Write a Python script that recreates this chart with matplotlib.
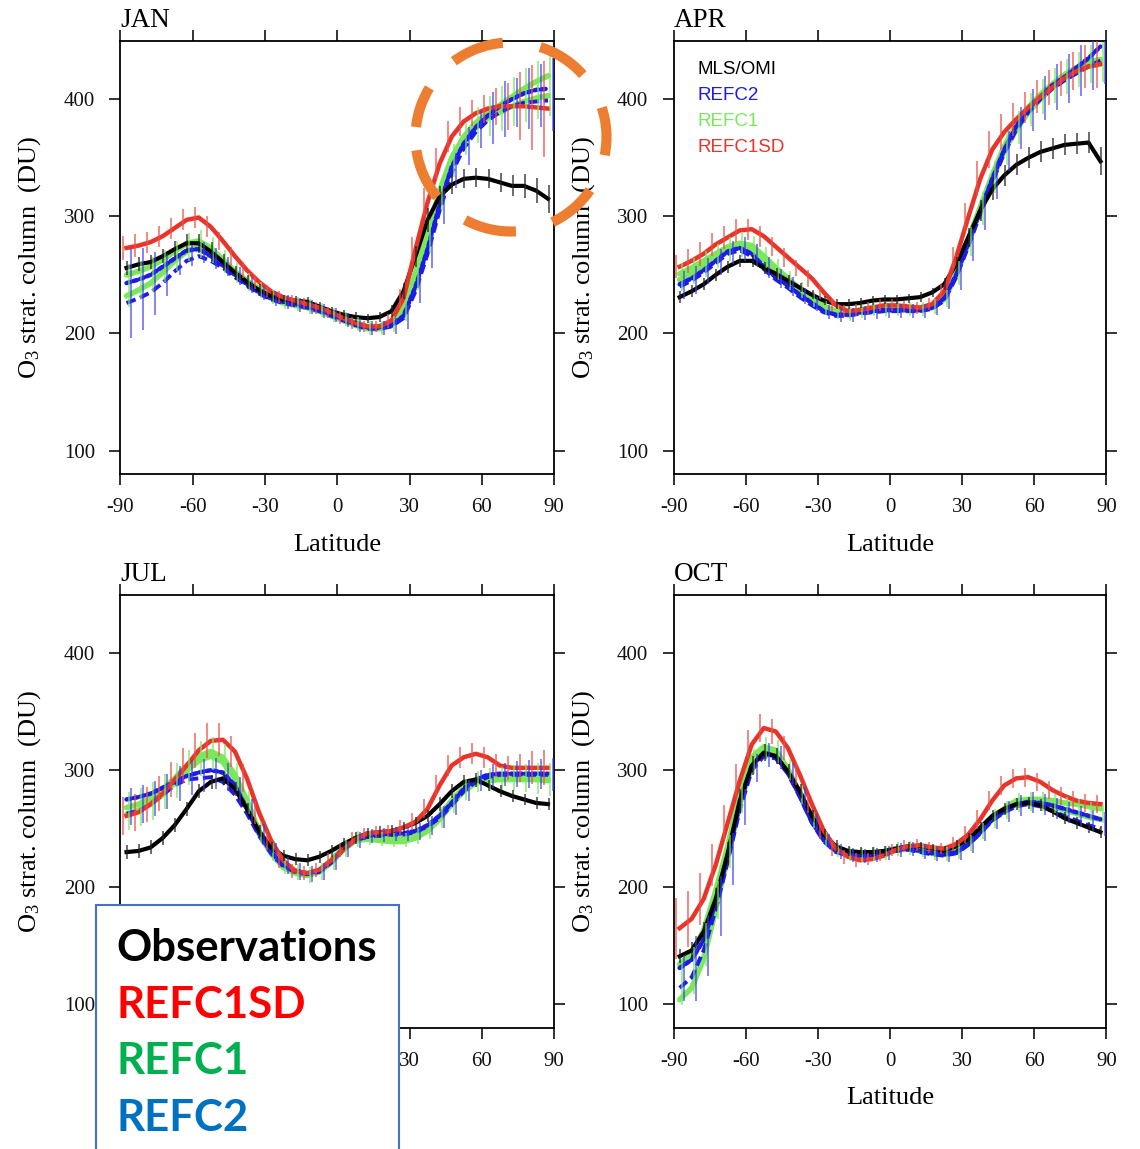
import numpy as np
import matplotlib
matplotlib.use("Agg")
import matplotlib.pyplot as plt
from matplotlib.patches import Arc, Rectangle

# Latitude grid (band centres, degrees)
lat = np.arange(-87.5, 90.0, 5.0)

# ---------------- JAN ----------------
jan_obs = [256, 259, 261, 266, 272, 277, 277, 270, 261, 252, 244, 237, 232, 229, 228, 227, 223, 219,
           216, 214, 213, 214, 219, 236, 266, 297, 317, 327, 332, 333, 332, 329, 326, 326, 322, 315]
jan_sd = [273, 275, 278, 283, 290, 297, 299, 291, 279, 266, 254, 244, 236, 231, 228, 225, 222, 218,
          213, 209, 206, 206, 211, 230, 272, 312, 345, 368, 381, 388, 392, 394, 394, 394, 393, 392]
jan_c1a = [250, 253, 257, 263, 270, 277, 279, 273, 263, 253, 245, 238, 232, 228, 226, 224, 221, 217,
           213, 209, 206, 206, 209, 222, 252, 285, 322, 350, 368, 380, 388, 395, 402, 409, 415, 420]
jan_c1b = [232, 237, 243, 252, 262, 270, 274, 269, 260, 251, 243, 236, 230, 226, 224, 222, 219, 215,
           211, 207, 204, 204, 207, 218, 246, 280, 316, 345, 364, 376, 384, 389, 394, 398, 401, 403]
jan_c2a = [243, 246, 250, 257, 264, 271, 272, 266, 258, 250, 242, 235, 230, 227, 225, 223, 220, 216,
           212, 208, 205, 205, 207, 215, 240, 272, 310, 342, 362, 376, 386, 394, 400, 405, 408, 409]
jan_c2b = [226, 230, 235, 243, 253, 262, 266, 262, 256, 248, 241, 234, 229, 226, 224, 222, 219, 215,
           211, 207, 204, 204, 206, 213, 236, 268, 305, 337, 358, 372, 382, 389, 394, 397, 398, 399]
jan_obs_err = [6, 6, 6, 6, 7, 8, 8, 8, 7, 6, 6, 5, 4, 4, 4, 4, 4, 4,
               4, 4, 4, 4, 5, 7, 9, 10, 9, 8, 8, 8, 8, 8, 9, 10, 11, 12]
jan_sd_err = [10, 10, 9, 9, 9, 9, 9, 9, 8, 8, 7, 6, 5, 5, 5, 5, 5, 5,
              5, 5, 5, 5, 6, 8, 10, 12, 13, 13, 12, 11, 12, 16, 20, 29, 36, 41]
jan_c1_err = [18, 16, 15, 14, 13, 12, 12, 11, 10, 9, 8, 7, 6, 6, 6, 6, 6, 6,
              6, 6, 6, 6, 7, 9, 12, 14, 14, 14, 14, 15, 17, 19, 21, 23, 25, 26]
jan_c2_err = [38, 35, 27, 18, 9, 9, 9, 9, 8, 8, 7, 6, 6, 6, 6, 6, 6, 6,
              6, 6, 6, 6, 7, 10, 12, 14, 14, 15, 16, 16, 22, 24, 21, 26, 27, 31]

# ---------------- APR ----------------
apr_obs = [231, 236, 242, 250, 257, 262, 262, 256, 251, 245, 239, 233, 228, 225, 225, 226, 228, 229,
           229, 230, 231, 235, 242, 259, 282, 305, 323, 335, 344, 350, 355, 358, 361, 362, 363, 347]
apr_sd = [257, 262, 268, 276, 282, 288, 289, 283, 274, 265, 256, 247, 235, 224, 219, 220, 222, 224,
          224, 223, 222, 225, 236, 265, 299, 332, 357, 372, 383, 393, 402, 410, 418, 424, 428, 430]
apr_c1a = [251, 256, 262, 268, 274, 277, 275, 266, 256, 247, 238, 230, 223, 219, 218, 220, 222, 222,
           222, 222, 222, 224, 231, 253, 280, 308, 335, 360, 378, 393, 404, 413, 421, 427, 432, 434]
apr_c1b = [246, 251, 257, 264, 270, 274, 272, 263, 253, 244, 236, 228, 221, 217, 216, 218, 220, 220,
           220, 220, 220, 222, 229, 250, 277, 305, 332, 356, 374, 389, 400, 410, 418, 424, 428, 430]
apr_c2a = [242, 247, 254, 262, 270, 273, 268, 257, 248, 241, 233, 226, 219, 216, 216, 218, 219, 220,
           220, 220, 220, 222, 230, 250, 277, 305, 332, 357, 377, 392, 402, 412, 419, 427, 435, 445]
apr_c2b = [240, 245, 252, 260, 268, 271, 266, 255, 246, 239, 231, 224, 218, 215, 215, 217, 218, 219,
           219, 219, 219, 221, 228, 248, 274, 302, 329, 354, 374, 389, 400, 409, 416, 422, 428, 433]
apr_obs_err = [5, 5, 5, 5, 5, 5, 5, 5, 5, 5, 4, 4, 4, 4, 4, 4, 4, 4,
               4, 4, 4, 4, 5, 6, 8, 9, 9, 9, 9, 9, 9, 9, 9, 9, 9, 12]
apr_sd_err = [10, 10, 10, 10, 10, 10, 9, 9, 8, 8, 7, 7, 6, 5, 5, 5, 5, 5,
              5, 5, 5, 5, 6, 9, 12, 15, 16, 15, 14, 13, 14, 15, 15, 16, 18, 20]
apr_c1_err = [12, 11, 11, 10, 10, 10, 10, 9, 9, 8, 7, 6, 6, 6, 6, 6, 6, 6,
              6, 6, 6, 6, 7, 10, 12, 14, 14, 14, 14, 14, 15, 15, 15, 15, 16, 17]
apr_c2_err = [12, 12, 11, 11, 10, 10, 9, 9, 8, 8, 7, 6, 6, 6, 6, 6, 6, 6,
              6, 6, 6, 6, 8, 12, 14, 15, 16, 17, 18, 18, 19, 20, 21, 22, 24, 26]

# ---------------- JUL ----------------
jul_obs = [230, 231, 234, 242, 253, 267, 282, 290, 293, 284, 267, 248, 234, 227, 224, 223, 226, 231,
           237, 242, 246, 247, 248, 251, 255, 261, 271, 282, 290, 292, 287, 282, 278, 275, 272, 271]
jul_sd = [261, 264, 271, 280, 292, 304, 317, 325, 326, 316, 293, 264, 240, 223, 214, 212, 215, 223,
          232, 241, 246, 247, 248, 251, 256, 267, 287, 304, 311, 314, 311, 304, 302, 302, 302, 302]
jul_c1a = [268, 271, 276, 284, 293, 304, 312, 316, 311, 296, 274, 248, 231, 219, 214, 211, 214, 223,
           234, 242, 243, 242, 242, 242, 245, 251, 261, 274, 285, 292, 293, 294, 294, 294, 294, 293]
jul_c1b = [262, 266, 271, 279, 289, 300, 308, 312, 307, 293, 271, 246, 229, 217, 212, 210, 213, 221,
           232, 240, 241, 240, 239, 239, 242, 248, 258, 271, 282, 289, 291, 292, 292, 292, 292, 291]
jul_c2a = [275, 277, 280, 285, 290, 295, 298, 300, 298, 287, 267, 246, 230, 219, 214, 212, 214, 222,
           233, 241, 244, 245, 246, 246, 248, 253, 261, 272, 284, 292, 296, 297, 297, 297, 297, 297]
jul_c2b = [263, 265, 271, 279, 287, 292, 293, 294, 290, 279, 263, 244, 229, 218, 213, 211, 213, 221,
           232, 240, 243, 244, 245, 245, 247, 252, 259, 270, 282, 290, 294, 296, 296, 296, 296, 296]
jul_obs_err = [6, 6, 6, 6, 6, 6, 6, 6, 6, 6, 5, 5, 5, 5, 5, 5, 5, 5,
               5, 5, 5, 5, 5, 5, 5, 5, 6, 6, 6, 6, 5, 5, 5, 5, 5, 5]
jul_sd_err = [16, 16, 15, 15, 15, 15, 15, 15, 14, 13, 12, 10, 8, 7, 6, 6, 6, 6,
              6, 6, 5, 5, 5, 6, 7, 8, 9, 9, 9, 9, 9, 10, 10, 12, 14, 15]
jul_c1_err = [16, 16, 16, 15, 15, 15, 15, 14, 13, 12, 10, 9, 8, 7, 7, 7, 7, 7,
              7, 7, 6, 6, 6, 6, 7, 8, 9, 9, 9, 9, 10, 10, 11, 12, 13, 14]
jul_c2_err = [16, 16, 15, 15, 15, 15, 14, 13, 12, 11, 10, 9, 8, 7, 7, 7, 7, 7,
              7, 7, 6, 6, 6, 6, 7, 8, 9, 9, 9, 9, 10, 10, 11, 12, 13, 14]

# ---------------- OCT ----------------
oct_obs = [141, 146, 162, 190, 229, 274, 304, 315, 312, 299, 282, 261, 245, 235, 231, 230, 230, 231,
           233, 235, 235, 233, 231, 235, 241, 251, 261, 267, 271, 272, 270, 265, 259, 255, 251, 247]
oct_sd = [165, 173, 190, 219, 255, 291, 322, 336, 333, 319, 296, 271, 248, 233, 226, 223, 224, 227,
          232, 235, 236, 234, 233, 237, 245, 258, 274, 287, 293, 294, 290, 283, 278, 274, 272, 271]
oct_c1a = [134, 144, 163, 197, 235, 280, 311, 320, 317, 301, 280, 258, 242, 232, 229, 228, 229, 230,
           233, 234, 232, 230, 229, 231, 239, 249, 260, 267, 274, 275, 275, 274, 272, 271, 269, 267]
oct_c1b = [104, 114, 139, 181, 226, 271, 304, 317, 315, 300, 279, 257, 241, 231, 228, 227, 228, 229,
           232, 233, 231, 229, 228, 230, 237, 247, 258, 265, 271, 272, 271, 269, 266, 263, 260, 258]
oct_c2a = [131, 138, 155, 187, 226, 271, 304, 314, 312, 298, 278, 256, 240, 231, 228, 227, 228, 230,
           232, 233, 231, 229, 228, 230, 237, 247, 258, 265, 271, 273, 272, 270, 267, 264, 261, 258]
oct_c2b = [114, 123, 146, 181, 222, 266, 300, 312, 310, 297, 277, 255, 239, 230, 227, 226, 227, 229,
           231, 232, 230, 228, 227, 229, 236, 246, 257, 264, 269, 271, 269, 265, 261, 257, 253, 250]
oct_obs_err = [6, 7, 8, 9, 10, 10, 8, 7, 7, 6, 6, 5, 5, 5, 4, 4, 4, 4,
               4, 4, 4, 4, 4, 5, 5, 5, 5, 5, 5, 5, 5, 5, 5, 5, 5, 5]
oct_sd_err = [26, 24, 22, 18, 15, 14, 12, 12, 11, 10, 9, 8, 7, 6, 6, 6, 5, 5,
              5, 5, 5, 5, 5, 6, 7, 8, 8, 8, 8, 8, 8, 8, 8, 8, 8, 8]
oct_c1_err = [20, 20, 18, 16, 14, 12, 11, 10, 10, 9, 8, 7, 6, 6, 6, 6, 6, 6,
              6, 6, 6, 6, 6, 6, 7, 7, 8, 8, 8, 8, 8, 8, 8, 8, 8, 8]
oct_c2_err = [20, 28, 26, 26, 22, 15, 12, 10, 10, 9, 8, 7, 6, 6, 6, 6, 6, 6,
              6, 6, 6, 6, 6, 6, 7, 7, 8, 9, 9, 9, 9, 9, 9, 9, 9, 10]

months = ["JAN", "APR", "JUL", "OCT"]
xticks = [-90, -60, -30, 0, 30, 60, 90]
xticklabels = ["-90", "-60", "-30", "0", "30", "60", "90"]
# the JUL panel's lower-left corner sits under the boxed key
xticklabels_jul = ["", "", "", "", "30", "60", "90"]
yticks = [100, 200, 300, 400]
legend_names = ["MLS/OMI", "REFC2", "REFC1", "REFC1SD"]
box_names = ["Observations", "REFC1SD", "REFC1", "REFC2"]

panels = {
    "JAN": (jan_obs, jan_sd, jan_c1a, jan_c1b, jan_c2a, jan_c2b,
            jan_obs_err, jan_sd_err, jan_c1_err, jan_c2_err),
    "APR": (apr_obs, apr_sd, apr_c1a, apr_c1b, apr_c2a, apr_c2b,
            apr_obs_err, apr_sd_err, apr_c1_err, apr_c2_err),
    "JUL": (jul_obs, jul_sd, jul_c1a, jul_c1b, jul_c2a, jul_c2b,
            jul_obs_err, jul_sd_err, jul_c1_err, jul_c2_err),
    "OCT": (oct_obs, oct_sd, oct_c1a, oct_c1b, oct_c2a, oct_c2b,
            oct_obs_err, oct_sd_err, oct_c1_err, oct_c2_err),
}

# Colours
C_OBS = "#000000"
C_SD = "#e8352b"
C_C1 = "#7be85c"
C_C2 = "#1c1ce6"

plt.rcParams["font.family"] = ["Liberation Serif", "DejaVu Serif"]
plt.rcParams["mathtext.default"] = "regular"

fig = plt.figure(figsize=(11.40, 11.49), dpi=100)

positions = {
    "JAN": [0.1057, 0.5875, 0.3803, 0.3771],
    "APR": [0.5909, 0.5875, 0.3797, 0.3771],
    "JUL": [0.1057, 0.1056, 0.3803, 0.3769],
    "OCT": [0.5909, 0.1056, 0.3797, 0.3769],
}

for m in months:
    obs, sd, c1a, c1b, c2a, c2b, e_obs, e_sd, e_c1, e_c2 = [np.asarray(a, float) for a in panels[m]]
    ax = fig.add_axes(positions[m])

    # ensemble members and observations
    ax.plot(lat, c1b, color=C_C1, lw=4.0, solid_capstyle="round", zorder=2)
    ax.plot(lat, c1a, color=C_C1, lw=4.0, solid_capstyle="round", zorder=2)
    ax.plot(lat, c2b, color=C_C2, lw=2.8, ls=(0, (2.5, 1.2)), zorder=3)
    ax.plot(lat, c2a, color=C_C2, lw=3.2, ls=(0, (0.9, 0.7)), dash_capstyle="round", zorder=3)
    ax.plot(lat, obs, color=C_OBS, lw=3.0, zorder=4)
    ax.plot(lat, sd, color=C_SD, lw=3.2, zorder=5)

    # standard-deviation bars about the ensemble means
    c1m = 0.5 * (c1a + c1b)
    c2m = 0.5 * (c2a + c2b)
    ax.vlines(lat + 1.0, c1m - e_c1, c1m + e_c1, color=C_C1, lw=1.1, alpha=0.85, zorder=6)
    ax.vlines(lat + 2.0, c2m - e_c2, c2m + e_c2, color="#3a3af0", lw=1.1, alpha=0.8, zorder=6)
    ax.vlines(lat - 1.5, sd - e_sd, sd + e_sd, color="#ee5045", lw=1.1, alpha=0.85, zorder=6)
    ax.vlines(lat + 0.3, obs - e_obs, obs + e_obs, color="#222222", lw=1.1, alpha=0.85, zorder=6)

    ax.set_xlim(-90, 90)
    ax.set_ylim(80, 450)
    ax.set_xticks(xticks)
    ax.set_xticklabels(xticklabels_jul if m == "JUL" else xticklabels)
    ax.set_yticks(yticks)
    ax.tick_params(direction="out", length=8, width=1.2, top=True, right=True,
                   labelsize=15, colors="#111111")
    ax.tick_params(axis="x", pad=9.5)
    ax.tick_params(axis="y", pad=10.5)
    for s in ax.spines.values():
        s.set_linewidth(1.3)
    if m != "JUL":
        ax.set_xlabel("Latitude", fontsize=19)
        ax.xaxis.set_label_coords(0.5, -0.138)
    ax.set_ylabel("O$_3$ strat. column  (DU)", fontsize=19)
    ax.yaxis.set_label_coords(-0.178, 0.5)
    ax.text(0.0, 1.031, m, transform=ax.transAxes, fontsize=19.5, ha="left", va="baseline")

    if m == "APR":
        for i, (name, col) in enumerate(zip(legend_names, [C_OBS, C_C2, C_C1, C_SD])):
            ax.text(0.054, 0.923 - 0.06 * i, name, transform=ax.transAxes, color=col,
                    fontsize=13.5, family="Liberation Sans", va="baseline", ha="left")

# Overlay in pixel units for the annotation layer
ov = fig.add_axes([0, 0, 1, 1], zorder=20)
ov.set_xlim(0, 1140)
ov.set_ylim(0, 1149)
ov.axis("off")
ov.patch.set_alpha(0)

# dashed highlight ring
for t1, t2 in [(95, 127), (41, 72), (-11, 18), (-64, -34), (-119, -87), (188, 219), (149, 174)]:
    ov.add_patch(Arc((511, 1012), 191, 189, theta1=t1, theta2=t2,
                     color="#ed7d31", lw=7.3, capstyle="butt"))

# boxed key
ov.add_patch(Rectangle((96, -10), 303, 254, facecolor="white", edgecolor="#4472c4", lw=1.5))
for i, (name, col) in enumerate(zip(box_names, ["#000000", "#ff0000", "#00b050", "#0070c0"])):
    ov.text(116, 188 - 56.6 * i, name, color=col, fontsize=31.5, fontweight="bold",
            family="Lato", va="baseline", ha="left")

fig.savefig("out.png", dpi=100)
